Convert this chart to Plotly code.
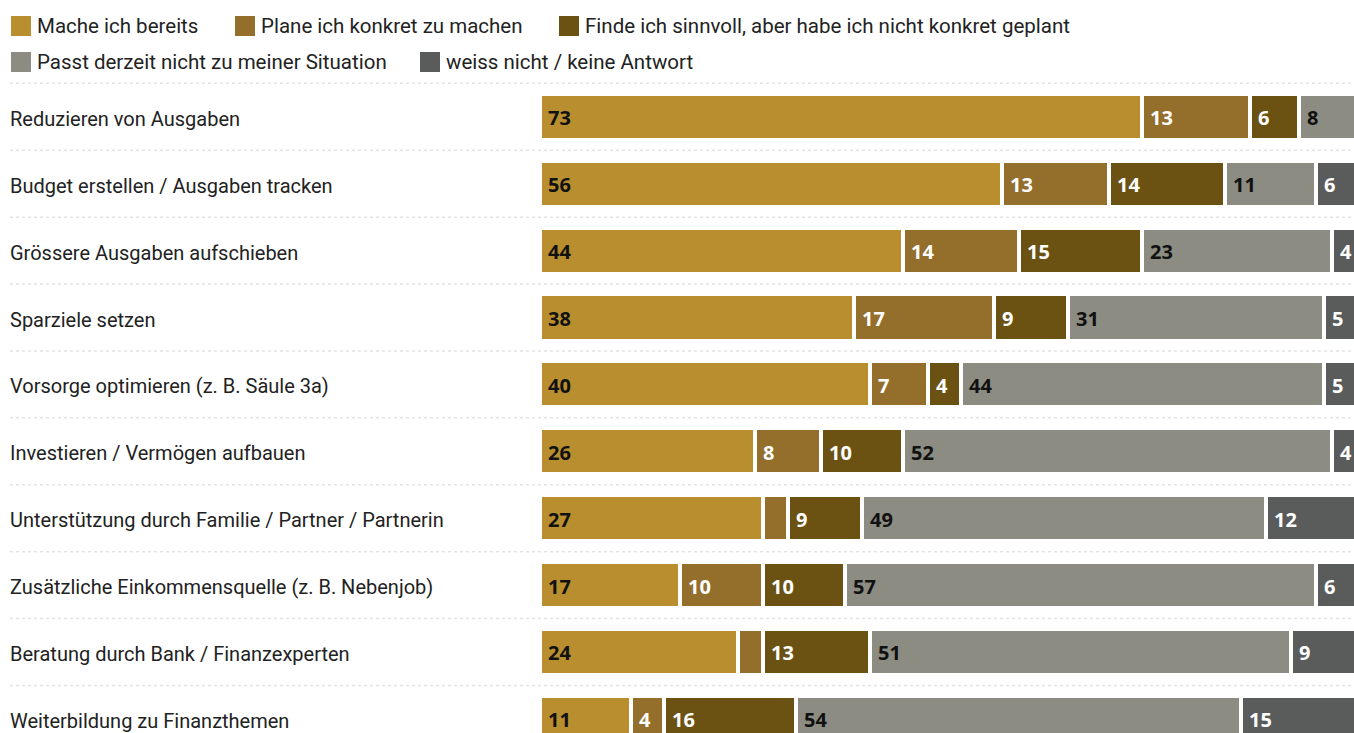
import plotly.graph_objects as go

# Survey items (top to bottom) and answer shares in percent
categories = [
    "Reduzieren von Ausgaben",
    "Budget erstellen / Ausgaben tracken",
    "Grössere Ausgaben aufschieben",
    "Sparziele setzen",
    "Vorsorge optimieren (z. B. Säule 3a)",
    "Investieren / Vermögen aufbauen",
    "Unterstützung durch Familie / Partner / Partnerin",
    "Zusätzliche Einkommensquelle (z. B. Nebenjob)",
    "Beratung durch Bank / Finanzexperten",
    "Weiterbildung zu Finanzthemen",
]
series_names = [
    "Mache ich bereits",
    "Plane ich konkret zu machen",
    "Finde ich sinnvoll, aber habe ich nicht konkret geplant",
    "Passt derzeit nicht zu meiner Situation",
    "weiss nicht / keine Antwort",
]
mache = [73, 56, 44, 38, 40, 26, 27, 17, 24, 11]
plane = [13, 13, 14, 17, 7, 8, 3, 10, 3, 4]
finde = [6, 14, 15, 9, 4, 10, 9, 10, 13, 16]
passt = [8, 11, 23, 31, 44, 52, 49, 57, 51, 54]
weiss = [0, 6, 4, 5, 5, 4, 12, 6, 9, 15]

series_values = [mache, plane, finde, passt, weiss]
colors = ["#B98E2E", "#946E2B", "#6B5212", "#8C8C82", "#5A5B5B"]
text_colors = ["#111111", "#FFFFFF", "#FFFFFF", "#111111", "#FFFFFF"]

W, H = 1354, 733
rows = list(range(len(categories)))
label_font = "Roboto, 'Noto Sans', sans-serif"
value_font = "'Open Sans', 'Noto Sans', sans-serif"

fig = go.Figure()
shapes = []
annotations = []

offsets = [0] * len(rows)
for name, vals, col, tcol in zip(series_names, series_values, colors, text_colors):
    fig.add_trace(go.Bar(
        name=name,
        x=vals,
        y=rows,
        orientation="h",
        width=0.688,
        marker=dict(color=col, line=dict(color="white", width=4)),
        hoverinfo="skip",
        showlegend=False,
    ))
    # value labels at the left edge of each segment
    for i, v in zip(rows, vals):
        if v >= 4:
            annotations.append(dict(
                x=offsets[i], y=i, xref="x", yref="y",
                text=str(v), showarrow=False,
                xanchor="left", yanchor="middle", xshift=6, yshift=-1,
                font=dict(family=value_font, size=20, color=tcol, weight=700),
            ))
        offsets[i] += v

# dotted row separators
for i in rows:
    shapes.append(dict(
        type="line", xref="paper", yref="y",
        x0=10 / W, x1=1, y0=i - 0.5, y1=i - 0.5,
        line=dict(color="#E3E3E3", width=1.5, dash="dot"),
        layer="below",
    ))

# category labels
for i, cat in zip(rows, categories):
    annotations.append(dict(
        x=10 / W, y=i, xref="paper", yref="y",
        text=cat, showarrow=False, xanchor="left", yanchor="middle",
        xshift=-2, yshift=-2,
        font=dict(family=label_font, size=20, color="#222222"),
    ))

# legend: two rows of colour squares with labels
legend_pos = [(11, 26), (235, 26), (559, 26), (11, 62), (420, 62)]
for (px, py), name, col in zip(legend_pos, series_names, colors):
    shapes.append(dict(
        type="rect", xref="paper", yref="paper",
        x0=px / W, x1=(px + 20) / W,
        y0=1 - (py + 10) / H, y1=1 - (py - 10) / H,
        fillcolor=col, line=dict(width=0),
    ))
    annotations.append(dict(
        x=(px + 26) / W, y=1 - py / H, xref="paper", yref="paper",
        text=name, showarrow=False, xanchor="left", yanchor="middle",
        xshift=-2,
        font=dict(family=label_font, size=20.5, color="#222222"),
    ))

fig.update_layout(
    width=W, height=H,
    margin=dict(l=0, r=0, t=0, b=0),
    barmode="stack",
    bargap=0,
    plot_bgcolor="white",
    paper_bgcolor="white",
    xaxis=dict(domain=[540 / W, 1], range=[0, (W - 540) / 8.25], visible=False, fixedrange=True),
    yaxis=dict(range=[9.211, -1.746], visible=False, fixedrange=True),
    shapes=shapes,
    annotations=annotations,
)

fig.write_html("out.html")
